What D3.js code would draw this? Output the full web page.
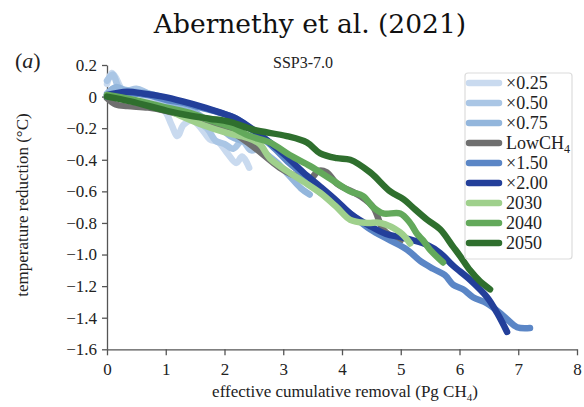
<!DOCTYPE html>
<html><head><meta charset="utf-8">
<script src="https://cdn.jsdelivr.net/npm/d3@7"></script>
<style>html,body{margin:0;padding:0;background:#fff;}svg{display:block;}</style>
</head><body>
<svg id="c" width="584" height="407"></svg>
<script>
const xTicks = [0,1,2,3,4,5,6,7,8];
const yTicks = [0.2,0,-0.2,-0.4,-0.6,-0.8,-1.0,-1.2,-1.4,-1.6];
const seriesNames = ["×0.25","×0.50","×0.75","LowCH4","×1.50","×2.00","2030","2040","2050"];
const colors = ["#c9daef","#aac6e5","#93b6dc","#6f6f6f","#5b86c6","#233f9a","#9fd08c","#63a95b","#2f6f2e"];

const s025 = [[0,0.08],[0.08,0.15],[0.15,0.12],[0.25,0.05],[0.4,0.03],[0.55,0.02],[0.7,-0.02],[0.85,-0.05],[1.0,-0.10],[1.1,-0.18],[1.2,-0.25],[1.3,-0.18],[1.45,-0.15],[1.6,-0.2],[1.75,-0.27],[1.9,-0.29],[2.05,-0.36],[2.2,-0.42],[2.3,-0.38],[2.42,-0.45]];
const s050 = [[0,0.1],[0.1,0.14],[0.2,0.06],[0.35,0.04],[0.5,0.05],[0.65,0.03],[0.8,0.0],[1.0,-0.06],[1.15,-0.1],[1.3,-0.12],[1.5,-0.15],[1.7,-0.2],[1.85,-0.28],[2.0,-0.3],[2.15,-0.33],[2.3,-0.28],[2.45,-0.34],[2.6,-0.33],[2.75,-0.38],[2.85,-0.42]];
const s075 = [[0,0.02],[0.15,0.06],[0.3,0.04],[0.5,0.03],[0.7,0.02],[0.9,0.0],[1.1,-0.04],[1.3,-0.07],[1.5,-0.10],[1.7,-0.15],[1.9,-0.19],[2.1,-0.25],[2.3,-0.28],[2.5,-0.30],[2.7,-0.36],[2.9,-0.42],[3.1,-0.50],[3.3,-0.58],[3.45,-0.62]];
const sLow = [[0,-0.01],[0.15,-0.05],[0.35,-0.06],[0.7,-0.07],[1.0,-0.09],[1.5,-0.14],[2.0,-0.20],[2.43,-0.30],[2.94,-0.45],[3.2,-0.50],[3.46,-0.52],[3.6,-0.47],[3.74,-0.48],[3.91,-0.55],[4.31,-0.63],[4.53,-0.70],[4.7,-0.84],[4.87,-0.89],[5.0,-0.91]];
const s150 = [[0,0.0],[0.3,0.02],[0.7,0.01],[1.0,-0.02],[1.3,-0.04],[1.6,-0.07],[1.9,-0.10],[2.2,-0.14],[2.5,-0.22],[2.8,-0.31],[3.1,-0.42],[3.35,-0.50],[3.6,-0.6],[3.9,-0.67],[4.14,-0.74],[4.48,-0.84],[4.82,-0.91],[5.11,-0.97],[5.33,-1.04],[5.55,-1.09],[5.75,-1.13],[5.89,-1.19],[6.06,-1.22],[6.23,-1.27],[6.47,-1.31],[6.69,-1.37],[6.81,-1.41],[6.98,-1.46],[7.2,-1.465]];
const s200 = [[0,0.01],[0.34,0.03],[0.61,0.02],[0.95,0.0],[1.29,-0.03],[1.58,-0.06],[1.92,-0.10],[2.2,-0.14],[2.49,-0.21],[2.77,-0.29],[3.06,-0.38],[3.34,-0.48],[3.63,-0.57],[3.91,-0.66],[4.14,-0.74],[4.48,-0.82],[4.75,-0.87],[5.0,-0.89],[5.21,-0.91],[5.45,-0.94],[5.67,-0.99],[5.89,-1.07],[6.18,-1.16],[6.47,-1.27],[6.64,-1.37],[6.81,-1.49]];
const s2030 = [[0,0.01],[0.3,-0.02],[0.7,-0.05],[1.0,-0.08],[1.3,-0.13],[1.63,-0.18],[2.04,-0.23],[2.38,-0.26],[2.6,-0.30],[2.77,-0.39],[3.06,-0.47],[3.35,-0.54],[3.63,-0.61],[3.91,-0.70],[4.14,-0.78],[4.43,-0.80],[4.65,-0.80],[4.99,-0.86],[5.16,-0.93]];
const s2040 = [[0,0.01],[0.44,-0.02],[1.02,-0.07],[1.46,-0.11],[1.75,-0.15],[2.09,-0.19],[2.43,-0.25],[2.77,-0.29],[3.11,-0.37],[3.46,-0.44],[3.8,-0.52],[4.14,-0.60],[4.36,-0.63],[4.53,-0.70],[4.7,-0.74],[4.99,-0.74],[5.16,-0.80],[5.28,-0.87],[5.38,-0.91],[5.5,-0.97],[5.72,-1.05]];
const s2050 = [[0,0.0],[0.4,-0.03],[1.02,-0.09],[1.4,-0.12],[1.75,-0.14],[2.09,-0.16],[2.49,-0.21],[3.06,-0.25],[3.4,-0.29],[3.63,-0.36],[3.91,-0.39],[4.14,-0.40],[4.48,-0.48],[4.82,-0.6],[5.05,-0.65],[5.2,-0.70],[5.45,-0.78],[5.67,-0.84],[5.89,-0.95],[6.01,-1.01],[6.18,-1.10],[6.35,-1.17],[6.52,-1.22]];
const seriesData = [s025,s050,s075,sLow,s150,s200,s2030,s2040,s2050];

const svg = d3.select("#c");
const x = d3.scaleLinear().domain([0,8]).range([107,577]);
const y = d3.scaleLinear().domain([-1.6,0.2]).range([349.3,65]);
const serif = "'Liberation Serif','Times New Roman',serif";

// axes
const fmt = d => d === 0 ? "0" : (d < 0 ? "\u2212" : "") + Math.abs(d).toFixed(1);
const gx = svg.append("g").attr("transform","translate(0,349.3)")
  .call(d3.axisBottom(x).tickValues(xTicks).tickSize(6).tickPadding(8).tickSizeOuter(0));
const gy = svg.append("g").attr("transform","translate(107,0)")
  .call(d3.axisLeft(y).tickValues(yTicks).tickFormat(fmt).tickSize(5).tickPadding(5).tickSizeOuter(0));
[gx,gy].forEach(g=>{
  g.selectAll("path,line").attr("stroke","#555").attr("stroke-width",1.3);
  g.selectAll("text").attr("font-family",serif).attr("font-size",17).attr("fill","#222");
});

// lines
const line = d3.line().x(d=>x(d[0])).y(d=>y(d[1])).curve(d3.curveCatmullRom.alpha(0.5));
svg.append("g").selectAll("path").data(seriesData).join("path")
  .attr("d", line).attr("fill","none")
  .attr("stroke",(d,i)=>colors[i]).attr("stroke-width",6.5)
  .attr("stroke-linecap","round").attr("stroke-linejoin","round");

// legend
const lg = svg.append("g");
lg.append("rect").attr("x",465).attr("y",73).attr("width",107).attr("height",186)
  .attr("rx",3).attr("fill","#fff").attr("stroke","#dcdcdc").attr("stroke-width",1.2);
seriesNames.forEach((n,i)=>{
  const yy = 83 + i*20;
  lg.append("line").attr("x1",469).attr("x2",499).attr("y1",yy).attr("y2",yy)
    .attr("stroke",colors[i]).attr("stroke-width",6.5).attr("stroke-linecap","round");
  const t = lg.append("text").attr("x",506).attr("y",yy+6).attr("font-family",serif)
    .attr("font-size",18).attr("fill","#222");
  if (n === "LowCH4") {
    t.append("tspan").text("LowCH");
    t.append("tspan").attr("font-size",12).attr("dy",4).text("4");
  } else t.text(n);
});

// labels
svg.append("text").attr("x",310).attr("y",33).attr("text-anchor","middle")
  .attr("font-family","'DejaVu Serif',serif").attr("font-size",26.5).attr("fill","#111")
  .text("Abernethy et al. (2021)");
svg.append("text").attr("x",303).attr("y",68).attr("text-anchor","middle")
  .attr("font-family",serif).attr("font-size",16).attr("fill","#222").text("SSP3-7.0");
svg.append("text").attr("x",15).attr("y",68).attr("font-family",serif)
  .attr("font-size",22).attr("fill","#222")
  .html("(<tspan font-style='italic'>a</tspan>)");
const xl = svg.append("text").attr("x",345).attr("y",397).attr("text-anchor","middle")
  .attr("font-family",serif).attr("font-size",17).attr("fill","#222");
xl.append("tspan").text("effective cumulative removal (Pg CH");
xl.append("tspan").attr("font-size",11).attr("dy",4).text("4");
xl.append("tspan").attr("dy",-4).text(")");
svg.append("text").attr("transform","translate(28,205) rotate(-90)").attr("text-anchor","middle")
  .attr("font-family",serif).attr("font-size",17).attr("fill","#222")
  .text("temperature reduction (°C)");
</script>
</body></html>
